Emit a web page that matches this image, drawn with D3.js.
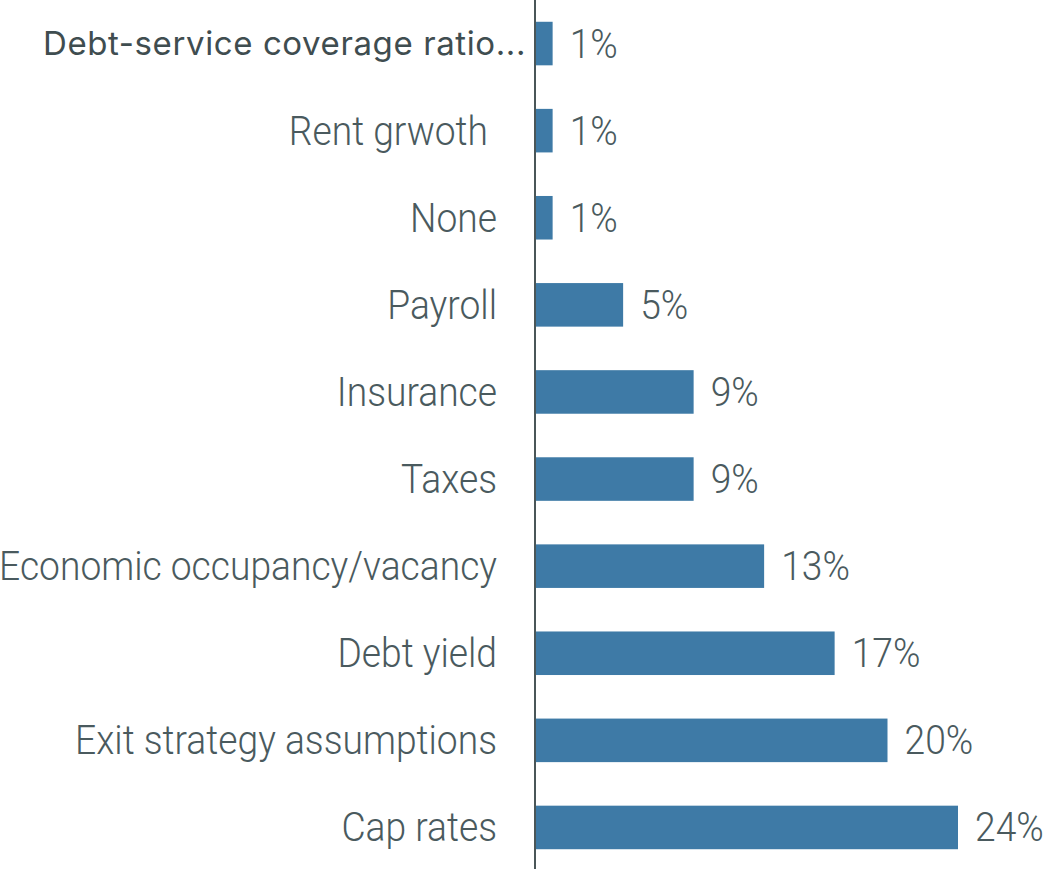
<!DOCTYPE html>
<html>
<head>
<meta charset="utf-8">
<script src="https://cdn.jsdelivr.net/npm/d3@7"></script>
<style>
  html, body { margin: 0; padding: 0; background: #ffffff; }
  svg { display: block; }
</style>
</head>
<body>
<svg id="chart" width="1046" height="869"></svg>
<script>
// Underwriting factors, share of respondents (%)
const categories = [
  "Debt-service coverage ratio...",
  "Rent grwoth ",
  "None",
  "Payroll",
  "Insurance",
  "Taxes",
  "Economic occupancy/vacancy",
  "Debt yield",
  "Exit strategy assumptions",
  "Cap rates"
];
const values = [1, 1, 1, 5, 9, 9, 13, 17, 20, 24];
const valueLabels = ["1%", "1%", "1%", "5%", "9%", "9%", "13%", "17%", "20%", "24%"];

const data = categories.map((c, i) => ({ cat: c, value: values[i], label: valueLabels[i] }));

const W = 1046, H = 869;
const axisX = 535;
const svg = d3.select("#chart");

const x = d3.scaleLinear().domain([0, 24]).range([axisX, 958]);
const y = d3.scaleBand()
  .domain(categories)
  .range([0, 871])
  .paddingInner(0.5)
  .paddingOuter(0.25);

const textColor = "#4a5a5e";
const barColor = "#3e7aa6";

// bars
svg.append("g").selectAll("rect")
  .data(data)
  .join("rect")
  .attr("x", x(0))
  .attr("y", d => y(d.cat))
  .attr("width", d => x(d.value) - x(0))
  .attr("height", y.bandwidth())
  .attr("fill", barColor);

// category labels, drawn in a light condensed face
const condense = 0.93;
const labelG = svg.append("g");
labelG.selectAll("text")
  .data(data)
  .join("text")
  .attr("transform", (d, i) => i === 0
    ? `translate(526,${y(d.cat) + y.bandwidth() / 2})`
    : `translate(497,${y(d.cat) + y.bandwidth() / 2}) scale(${condense},1)`)
  .attr("dy", "0.35em")
  .attr("text-anchor", "end")
  .style("white-space", "pre")
  .style("letter-spacing", (d, i) => i === 0 ? "0.6px" : null)
  .attr("font-family", (d, i) => i === 0 ? "Inter, 'Noto Sans', sans-serif" : "Roboto, sans-serif")
  .attr("font-weight", (d, i) => i === 0 ? 400 : 300)
  .attr("font-size", (d, i) => i === 0 ? 33 : 40)
  .attr("fill", (d, i) => i === 0 ? "#3f4d50" : textColor)
  .text(d => d.cat);

// value labels
svg.append("g").selectAll("text")
  .data(data)
  .join("text")
  .attr("transform", d => `translate(${x(d.value) + 17},${y(d.cat) + y.bandwidth() / 2}) scale(${condense},1)`)
  .attr("dy", "0.35em")
  .attr("font-family", "Roboto, sans-serif")
  .attr("font-weight", 300)
  .attr("font-size", 40)
  .attr("fill", textColor)
  .text(d => d.label);

// category axis line
svg.append("line")
  .attr("x1", axisX).attr("x2", axisX)
  .attr("y1", 0).attr("y2", H)
  .attr("stroke", "#4a5658")
  .attr("stroke-width", 2);
</script>
</body>
</html>
